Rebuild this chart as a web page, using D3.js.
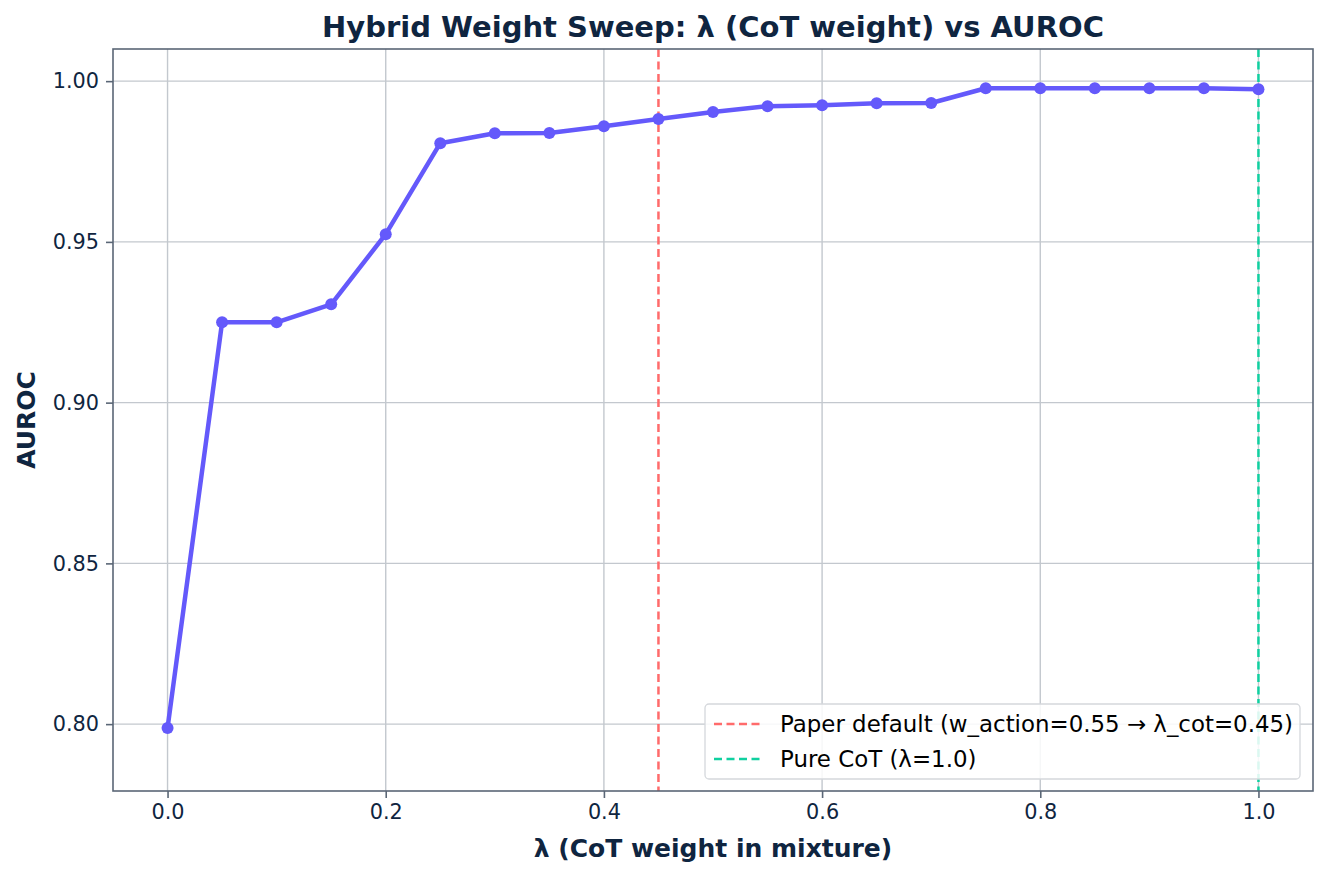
<!DOCTYPE html>
<html>
<head>
<meta charset="utf-8">
<script src="https://cdn.jsdelivr.net/npm/d3@7"></script>
<style>
  body { margin: 0; background: #fff; }
  text { font-family: "DejaVu Sans", sans-serif; fill: #0f2540; }
</style>
</head>
<body>
<script>
var width = 1327,
		height = 877;

// lambda values (CoT weight) and measured AUROC
var lambdas = [0.0, 0.05, 0.10, 0.15, 0.20, 0.25, 0.30, 0.35, 0.40, 0.45, 0.50,
	0.55, 0.60, 0.65, 0.70, 0.75, 0.80, 0.85, 0.90, 0.95, 1.0];
var auroc = [0.7988, 0.9250, 0.9250, 0.9306, 0.9524, 0.9807, 0.9838, 0.9839, 0.9860, 0.9882, 0.9904,
	0.9922, 0.9925, 0.9931, 0.9932, 0.9978, 0.9978, 0.9978, 0.9978, 0.9978, 0.9975];

var xTicks = [0.0, 0.2, 0.4, 0.6, 0.8, 1.0];
var yTicks = [0.80, 0.85, 0.90, 0.95, 1.00];

var refLines = [
	{ x: 0.45, label: 'Paper default (w_action=0.55 \u2192 \u03bb_cot=0.45)', color: '#ff6b6b' },
	{ x: 1.0, label: 'Pure CoT (\u03bb=1.0)', color: '#10d0a0' }
];

var margin = { top: 49, right: 14, bottom: 86, left: 113 };
var w = width - margin.left - margin.right,
		h = height - margin.top - margin.bottom;

var x = d3.scaleLinear().domain([-0.05, 1.05]).range([0, w]);
var y = d3.scaleLinear().domain([0.7792, 1.0100]).range([h, 0]);

var svg = d3.select('body').append('svg')
	.attr('width', width)
	.attr('height', height);

var g = svg.append('g').attr('transform', 'translate(' + margin.left + ',' + margin.top + ')');

// grid
g.append('g').selectAll('line').data(xTicks).enter().append('line')
	.attr('x1', d => x(d)).attr('x2', d => x(d))
	.attr('y1', 0).attr('y2', h)
	.attr('stroke', '#c3c8ce').attr('stroke-width', 1.4);
g.append('g').selectAll('line').data(yTicks).enter().append('line')
	.attr('y1', d => y(d)).attr('y2', d => y(d))
	.attr('x1', 0).attr('x2', w)
	.attr('stroke', '#c3c8ce').attr('stroke-width', 1.4);

// axes
var xAxis = g.append('g').attr('transform', 'translate(0,' + h + ')')
	.call(d3.axisBottom(x).tickValues(xTicks).tickFormat(d3.format('.1f')).tickSize(7).tickPadding(6));
var yAxis = g.append('g')
	.call(d3.axisLeft(y).tickValues(yTicks).tickFormat(d3.format('.2f')).tickSize(7).tickPadding(7));
[xAxis, yAxis].forEach(function(a) {
	a.select('.domain').remove();
	a.selectAll('line').attr('stroke', '#5a6676').attr('stroke-width', 1.6);
	a.selectAll('text').attr('font-size', 20.8).style('fill', '#0f2540');
});

// reference lines
g.append('g').selectAll('line').data(refLines).enter().append('line')
	.attr('x1', d => x(d.x)).attr('x2', d => x(d.x))
	.attr('y1', 0).attr('y2', h)
	.attr('stroke', d => d.color).attr('stroke-width', 2.5)
	.attr('stroke-dasharray', '8,4.5');

// data line
var line = d3.line().x((d, i) => x(lambdas[i])).y(d => y(d));
g.append('path').datum(auroc)
	.attr('d', line)
	.attr('fill', 'none')
	.attr('stroke', '#6459fb')
	.attr('stroke-width', 4.5)
	.attr('stroke-linejoin', 'round');
g.append('g').selectAll('circle').data(auroc).enter().append('circle')
	.attr('cx', (d, i) => x(lambdas[i]))
	.attr('cy', d => y(d))
	.attr('r', 6)
	.attr('fill', '#6459fb');

// frame
g.append('rect').attr('width', w).attr('height', h)
	.attr('fill', 'none').attr('stroke', '#5a6676').attr('stroke-width', 1.6);

// legend
var leg = g.append('g').attr('transform', 'translate(' + (705 - margin.left) + ',' + (704 - margin.top) + ')');
leg.append('rect').attr('width', 595).attr('height', 75).attr('rx', 4)
	.attr('fill', 'rgba(255,255,255,0.85)').attr('stroke', '#d5d8dc').attr('stroke-width', 1.3);
var items = leg.selectAll('g.item').data(refLines).enter().append('g')
	.attr('transform', (d, i) => 'translate(0,' + (20 + i * 35) + ')');
items.append('line')
	.attr('x1', 9).attr('x2', 56)
	.attr('stroke', d => d.color).attr('stroke-width', 2.5)
	.attr('stroke-dasharray', '8,4.5');
items.append('text')
	.attr('x', 75).attr('dy', '0.35em')
	.attr('font-size', 22.9)
	.style('fill', '#000')
	.text(d => d.label);

// title and labels
svg.append('text')
	.attr('x', margin.left + w / 2).attr('y', 37)
	.attr('text-anchor', 'middle')
	.attr('font-size', 29).attr('font-weight', 'bold')
	.text('Hybrid Weight Sweep: \u03bb (CoT weight) vs AUROC');
svg.append('text')
	.attr('x', margin.left + w / 2).attr('y', 857)
	.attr('text-anchor', 'middle')
	.attr('font-size', 25).attr('font-weight', 'bold')
	.text('\u03bb (CoT weight in mixture)');
svg.append('text')
	.attr('transform', 'translate(35,' + (margin.top + h / 2) + ') rotate(-90)')
	.attr('text-anchor', 'middle')
	.attr('font-size', 25).attr('font-weight', 'bold')
	.text('AUROC');
</script>
</body>
</html>
